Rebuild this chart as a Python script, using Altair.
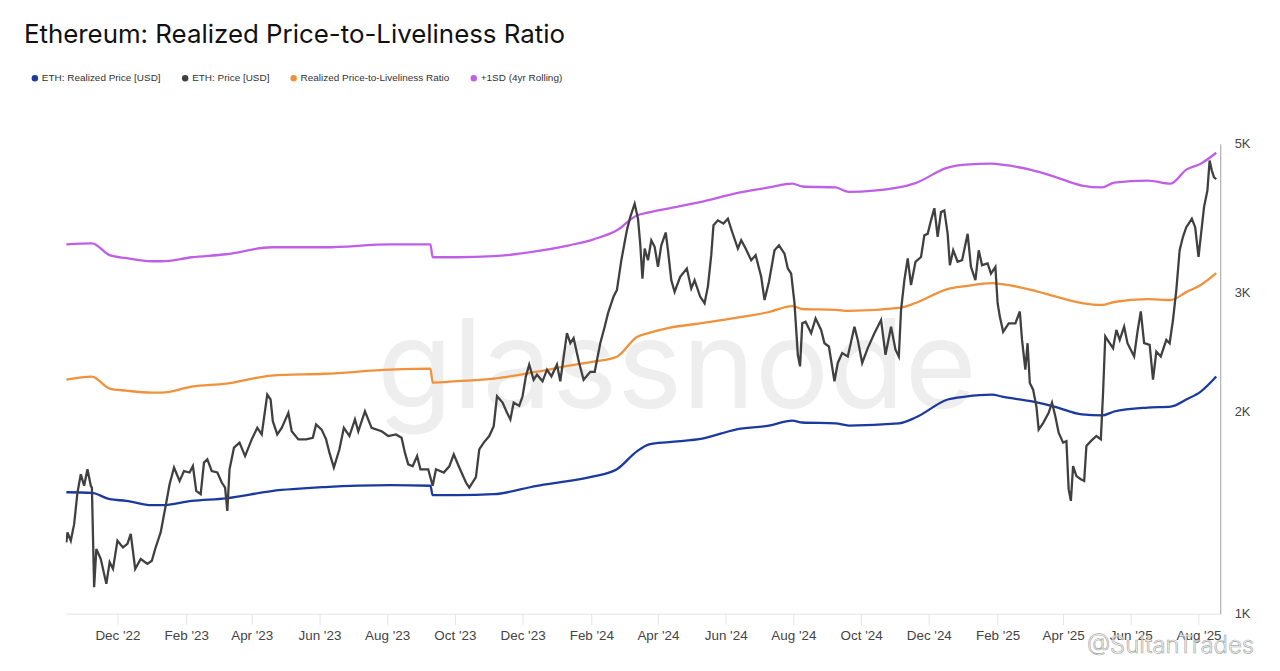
import altair as alt
import pandas as pd

# ---------------- data ----------------
series_names = [
    "ETH: Realized Price [USD]",
    "ETH: Price [USD]",
    "Realized Price-to-Liveliness Ratio",
    "+1SD (4yr Rolling)",
]
series_colors = ["#1a3aa0", "#404040", "#f0913b", "#bf5fe8"]

smooth_dates = [
    "2022-10-16", "2022-11-08", "2022-11-24", "2022-12-09", "2023-01-01", "2023-01-10",
    "2023-02-06", "2023-03-09", "2023-04-19", "2023-06-06", "2023-08-04", "2023-09-09",
    "2023-09-11", "2023-10-03", "2023-11-05", "2023-12-14", "2024-01-12", "2024-02-03",
    "2024-02-24", "2024-03-13", "2024-03-24", "2024-04-11", "2024-05-12", "2024-06-10",
    "2024-07-10", "2024-07-31", "2024-08-09", "2024-09-08", "2024-09-20", "2024-11-04",
    "2024-11-19", "2024-12-18", "2025-01-03", "2025-01-27", "2025-02-05", "2025-03-04",
    "2025-03-24", "2025-04-18", "2025-05-06", "2025-05-17", "2025-06-16", "2025-07-07",
    "2025-07-21", "2025-08-03", "2025-08-17",
]
realized_price = [
    1516, 1513, 1480, 1472, 1450, 1450, 1472, 1485, 1522, 1543, 1553, 1550,
    1501, 1501, 1506, 1550, 1576, 1601, 1640, 1744, 1786, 1800, 1823, 1879,
    1905, 1938, 1925, 1919, 1905, 1919, 1958, 2083, 2104, 2118, 2104, 2069,
    2033, 1979, 1972, 1999, 2026, 2033, 2083, 2140, 2253,
]
liveliness_ratio = [
    2229, 2253, 2162, 2147, 2133, 2133, 2177, 2199, 2261, 2275, 2307, 2315,
    2207, 2218, 2237, 2291, 2339, 2371, 2412, 2581, 2617, 2662, 2708, 2754,
    2811, 2869, 2840, 2831, 2821, 2850, 2899, 3041, 3072, 3104, 3093, 3030,
    2969, 2899, 2880, 2909, 2938, 2929, 3009, 3083, 3211,
]
plus_1sd = [
    3545, 3557, 3415, 3380, 3345, 3345, 3391, 3426, 3509, 3509, 3545, 3545,
    3391, 3391, 3403, 3462, 3533, 3606, 3719, 3913, 3954, 4009, 4106, 4220,
    4307, 4365, 4321, 4307, 4242, 4307, 4372, 4610, 4657, 4673, 4657, 4571,
    4471, 4335, 4307, 4380, 4410, 4365, 4578, 4673, 4851,
]

price_dates = [
    "2022-10-16", "2022-10-17", "2022-10-20", "2022-10-23", "2022-10-26", "2022-10-29",
    "2022-11-01", "2022-11-04", "2022-11-07", "2022-11-08", "2022-11-10", "2022-11-12",
    "2022-11-16", "2022-11-21", "2022-11-24", "2022-11-27", "2022-12-01", "2022-12-06",
    "2022-12-10", "2022-12-13", "2022-12-17", "2022-12-22", "2022-12-28", "2023-01-01",
    "2023-01-04", "2023-01-09", "2023-01-14", "2023-01-17", "2023-01-21", "2023-01-26",
    "2023-01-30", "2023-02-04", "2023-02-07", "2023-02-10", "2023-02-14", "2023-02-17",
    "2023-02-20", "2023-02-24", "2023-03-01", "2023-03-05", "2023-03-08", "2023-03-10",
    "2023-03-12", "2023-03-16", "2023-03-21", "2023-03-26", "2023-04-01", "2023-04-06",
    "2023-04-10", "2023-04-15", "2023-04-18", "2023-04-20", "2023-04-24", "2023-04-28",
    "2023-05-04", "2023-05-07", "2023-05-13", "2023-05-20", "2023-05-26", "2023-05-29",
    "2023-06-03", "2023-06-07", "2023-06-10", "2023-06-14", "2023-06-19", "2023-06-23",
    "2023-06-28", "2023-07-03", "2023-07-06", "2023-07-12", "2023-07-18", "2023-07-27",
    "2023-08-02", "2023-08-09", "2023-08-14", "2023-08-17", "2023-08-20", "2023-08-24",
    "2023-08-28", "2023-08-31", "2023-09-07", "2023-09-11", "2023-09-14", "2023-09-21",
    "2023-09-26", "2023-09-30", "2023-10-05", "2023-10-11", "2023-10-14", "2023-10-20",
    "2023-10-23", "2023-10-27", "2023-11-01", "2023-11-05", "2023-11-08", "2023-11-13",
    "2023-11-17", "2023-11-20", "2023-11-23", "2023-11-28", "2023-12-01", "2023-12-04",
    "2023-12-07", "2023-12-11", "2023-12-14", "2023-12-19", "2023-12-23", "2023-12-27",
    "2024-01-01", "2024-01-04", "2024-01-10", "2024-01-13", "2024-01-16", "2024-01-21",
    "2024-01-25", "2024-01-31", "2024-02-04", "2024-02-09", "2024-02-13", "2024-02-16",
    "2024-02-21", "2024-02-24", "2024-02-28", "2024-03-04", "2024-03-07", "2024-03-11",
    "2024-03-14", "2024-03-16", "2024-03-18", "2024-03-20", "2024-03-23", "2024-03-26",
    "2024-03-29", "2024-04-01", "2024-04-04", "2024-04-08", "2024-04-10", "2024-04-13",
    "2024-04-16", "2024-04-21", "2024-04-27", "2024-05-01", "2024-05-04", "2024-05-09",
    "2024-05-13", "2024-05-16", "2024-05-19", "2024-05-21", "2024-05-25", "2024-05-30",
    "2024-06-03", "2024-06-07", "2024-06-12", "2024-06-15", "2024-06-19", "2024-06-24",
    "2024-06-28", "2024-07-03", "2024-07-06", "2024-07-10", "2024-07-15", "2024-07-19",
    "2024-07-24", "2024-07-27", "2024-07-30", "2024-08-02", "2024-08-05", "2024-08-07",
    "2024-08-09", "2024-08-12", "2024-08-17", "2024-08-21", "2024-08-26", "2024-08-29",
    "2024-09-02", "2024-09-07", "2024-09-10", "2024-09-14", "2024-09-19", "2024-09-25",
    "2024-09-28", "2024-10-02", "2024-10-07", "2024-10-13", "2024-10-19", "2024-10-23",
    "2024-10-28", "2024-11-01", "2024-11-04", "2024-11-06", "2024-11-09", "2024-11-12",
    "2024-11-15", "2024-11-19", "2024-11-24", "2024-11-27", "2024-11-30", "2024-12-03",
    "2024-12-06", "2024-12-09", "2024-12-12", "2024-12-15", "2024-12-18", "2024-12-20",
    "2024-12-23", "2024-12-27", "2024-12-31", "2025-01-05", "2025-01-08", "2025-01-12",
    "2025-01-15", "2025-01-18", "2025-01-23", "2025-01-26", "2025-01-30", "2025-02-01",
    "2025-02-03", "2025-02-06", "2025-02-11", "2025-02-17", "2025-02-21", "2025-02-23",
    "2025-02-26", "2025-02-28", "2025-03-02", "2025-03-05", "2025-03-08", "2025-03-10",
    "2025-03-14", "2025-03-19", "2025-03-22", "2025-03-25", "2025-03-28", "2025-04-01",
    "2025-04-04", "2025-04-06", "2025-04-08", "2025-04-10", "2025-04-13", "2025-04-17",
    "2025-04-20", "2025-04-22", "2025-04-26", "2025-05-01", "2025-05-05", "2025-05-07",
    "2025-05-09", "2025-05-11", "2025-05-16", "2025-05-19", "2025-05-22", "2025-05-26",
    "2025-05-29", "2025-06-04", "2025-06-07", "2025-06-10", "2025-06-13", "2025-06-18",
    "2025-06-21", "2025-06-24", "2025-06-28", "2025-07-03", "2025-07-06", "2025-07-09",
    "2025-07-12", "2025-07-15", "2025-07-18", "2025-07-21", "2025-07-26", "2025-07-29",
    "2025-08-01", "2025-08-03", "2025-08-06", "2025-08-09", "2025-08-11", "2025-08-13",
    "2025-08-15", "2025-08-17",
]
price_values = [
    1277, 1321, 1284, 1359, 1515, 1612, 1550, 1640, 1550, 1540, 1095, 1248,
    1206, 1108, 1193, 1166, 1284, 1255, 1270, 1314, 1166, 1206, 1186, 1199,
    1248, 1322, 1463, 1558, 1650, 1576, 1630, 1622, 1658, 1523, 1506, 1678,
    1697, 1630, 1622, 1567, 1540, 1422, 1640, 1766, 1797, 1716, 1817, 1890,
    1848, 2118, 2083, 1934, 1848, 1890, 1990, 1868, 1817, 1817, 1827, 1912,
    1879, 1817, 1736, 1650, 1756, 1890, 1838, 1945, 1868, 2000, 1890, 1868,
    1838, 1848, 1827, 1736, 1668, 1657, 1716, 1640, 1640, 1550, 1640, 1622,
    1657, 1726, 1650, 1567, 1540, 1596, 1756, 1797, 1838, 1901, 2106, 2061,
    1990, 1945, 2061, 2038, 2106, 2255, 2347, 2229, 2268, 2217, 2307, 2255,
    2347, 2217, 2614, 2526, 2570, 2361, 2229, 2290, 2290, 2526, 2673, 2800,
    2964, 3030, 3357, 3719, 3890, 4073, 3869, 3554, 3152, 3494, 3357, 3594,
    3515, 3281, 3533, 3691, 3473, 3135, 3012, 3171, 3263, 3048, 3135, 2964,
    2897, 3069, 3415, 3783, 3848, 3805, 3869, 3691, 3494, 3594, 3494, 3357,
    3415, 3171, 2929, 3118, 3473, 3533, 3432, 3263, 3206, 2897, 2428, 2333,
    2704, 2718, 2614, 2750, 2644, 2526, 2498, 2217, 2361, 2442, 2414, 2673,
    2555, 2361, 2484, 2614, 2735, 2428, 2673, 2470, 2414, 2830, 3135, 3377,
    3083, 3339, 3394, 3656, 3674, 3848, 4011, 3637, 3958, 3981, 3674, 3300,
    3473, 3339, 3357, 3674, 3281, 3135, 3473, 3300, 3319, 3206, 3281, 2897,
    2767, 2626, 2704, 2704, 2816, 2555, 2307, 2526, 2204, 2154, 2031, 1879,
    1921, 1990, 2061, 1967, 1859, 1797, 1806, 1532, 1472, 1658, 1602, 1585,
    1576, 1776, 1806, 1838, 1817, 2130, 2585, 2555, 2483, 2644, 2555, 2673,
    2526, 2414, 2626, 2816, 2526, 2512, 2229, 2455, 2414, 2555, 2526, 2735,
    3030, 3473, 3637, 3759, 3869, 3759, 3394, 3637, 4030, 4262, 4722, 4563,
    4459, 4433,
]

y_tick_values = [1000, 2000, 3000, 5000]
x_tick_months = [
    (2022, 12), (2023, 2), (2023, 4), (2023, 6), (2023, 8), (2023, 10), (2023, 12),
    (2024, 2), (2024, 4), (2024, 6), (2024, 8), (2024, 10), (2024, 12),
    (2025, 2), (2025, 4), (2025, 6), (2025, 8),
]
title_text = "Ethereum: Realized Price-to-Liveliness Ratio"

# ---------------- tables ----------------
smooth_df = pd.DataFrame({
    "date": smooth_dates * 3,
    "value": realized_price + liveliness_ratio + plus_1sd,
    "series": [series_names[0]] * len(smooth_dates)
              + [series_names[2]] * len(smooth_dates)
              + [series_names[3]] * len(smooth_dates),
})
price_df = pd.DataFrame({"date": price_dates, "value": price_values,
                         "series": series_names[1]})
legend_df = pd.DataFrame({"date": ["2024-01-01"] * 4, "value": [10] * 4,
                          "series": series_names})

# ---------------- scales ----------------
x_scale = alt.Scale(
    type="utc",
    domain=[alt.DateTime(year=2022, month=10, date=15, hours=10, utc=True),
            alt.DateTime(year=2025, month=8, date=20, hours=14, utc=True)],
)
y_scale = alt.Scale(type="log", domain=[1000, 5000], nice=False, zero=False)
color_scale = alt.Scale(domain=series_names, range=series_colors)

x_axis = alt.Axis(
    values=[alt.DateTime(year=y, month=m, date=1, utc=True) for y, m in x_tick_months],
    labelExpr="utcFormat(datum.value, \"%b '%y\")",
    title=None, grid=False, domainColor="#e4e4e4", tickColor="#e4e4e4",
    tickSize=11, labelPadding=4, labelFont="Liberation Sans", labelFontSize=13.5,
    labelColor="#444444",
)
y_axis = alt.Axis(
    orient="right", values=y_tick_values, labelExpr="datum.value / 1000 + 'K'",
    title=None, grid=False, ticks=False, domainColor="#a0a0a0", labelPadding=14,
    labelFont="Liberation Sans", labelFontSize=13, labelColor="#444444",
)

X = alt.X("date:T", scale=x_scale, axis=x_axis)
Y = alt.Y("value:Q", scale=y_scale, axis=y_axis)


def line_layer(df, name, interp):
    return alt.Chart(df).transform_filter(
        alt.datum.series == name
    ).mark_line(strokeWidth=2.3, clip=True, interpolate=interp).encode(
        x=X, y=Y,
        color=alt.Color("series:N", scale=color_scale, legend=None),
    )


watermark = alt.Chart(pd.DataFrame({"t": ["glassnode"]})).mark_text(
    font="Inter", fontSize=124, fontWeight=400, color="#eeeeee",
    align="center", baseline="alphabetic",
).encode(x=alt.value(614), y=alt.value(265), text="t:N")

legend_layer = alt.Chart(legend_df).mark_circle(size=40, opacity=1, clip=True).encode(
    x=X, y=Y,
    color=alt.Color(
        "series:N", scale=color_scale,
        legend=alt.Legend(
            orient="none", legendX=-36, legendY=-71, direction="horizontal",
            columns=4, title=None, symbolType="circle", symbolSize=42,
            symbolStrokeWidth=0, labelFont="Liberation Sans", labelFontSize=10,
            labelColor="#333333", columnPadding=19, labelOffset=2, padding=0,
        ),
    ),
)

title_layer = alt.Chart(pd.DataFrame({"t": [title_text]})).mark_text(
    font="Inter", fontSize=26, color="#111111", align="left", baseline="alphabetic",
).encode(x=alt.value(-42), y=alt.value(-101), text="t:N")

credit_layer = alt.Chart(pd.DataFrame({"t": ["@SultanTrades"]})).mark_text(
    font="Inter", fontSize=24, fontWeight=300, fill="#ffffff", fillOpacity=0.75,
    stroke="#a8a8a8", strokeWidth=0.7, align="left", baseline="alphabetic",
).encode(x=alt.value(1026), y=alt.value(512), text="t:N")

chart = alt.layer(
    watermark,
    line_layer(smooth_df, series_names[3], "monotone"),
    line_layer(smooth_df, series_names[2], "monotone"),
    line_layer(smooth_df, series_names[0], "monotone"),
    line_layer(price_df, series_names[1], "linear"),
    legend_layer,
    title_layer,
    credit_layer,
).resolve_legend(color="independent").properties(
    width=1160, height=472,
    autosize=alt.AutoSizeParams(type="none"),
    padding={"left": 58, "top": 135, "right": 52, "bottom": 48},
    background="white",
).configure_view(stroke=None)

chart.save("out.html", embed_options={"renderer": "svg", "actions": False})
